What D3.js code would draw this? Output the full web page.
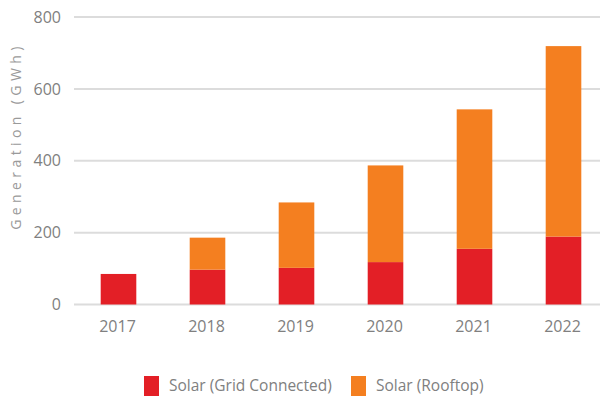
<!DOCTYPE html>
<html>
<head>
<meta charset="utf-8">
<script src="https://cdn.jsdelivr.net/npm/d3@7"></script>
<style>
  html, body { margin: 0; padding: 0; background: #fff; }
  svg { display: block; font-family: "Open Sans", sans-serif; }
</style>
</head>
<body>
<svg id="chart" width="605" height="396"></svg>
<script>
// Annual solar generation (GWh)
const years = ["2017", "2018", "2019", "2020", "2021", "2022"];
const gridConnected = [85, 97, 102, 118, 155, 189];
const rooftop = [0, 89, 182, 269, 388, 530];
const seriesNames = ["Solar (Grid Connected)", "Solar (Rooftop)"];
const seriesColors = ["#e31f26", "#f47f20"];
const yTicks = [0, 200, 400, 600, 800];

const svg = d3.select("#chart");
const margin = { left: 74, right: -3, top: 17, bottom: 91 };
const width = 605, height = 396;

const rows = years.map((y, i) => ({ year: y, grid: gridConnected[i], rooftop: rooftop[i] }));
const stack = d3.stack().keys(["grid", "rooftop"]);
const layers = stack(rows);

const x = d3.scaleBand()
  .domain(years)
  .range([margin.left, width - margin.right])
  .paddingInner(0.6)
  .paddingOuter(0.3);

const y = d3.scaleLinear()
  .domain([0, 800])
  .range([304.5, 17]);

// horizontal gridlines
svg.append("g")
  .selectAll("line")
  .data(yTicks)
  .join("line")
  .attr("x1", margin.left)
  .attr("x2", 600)
  .attr("y1", d => y(d))
  .attr("y2", d => y(d))
  .attr("stroke", "#dcdcdc")
  .attr("stroke-width", 2);

// y tick labels
const yAxis = d3.axisLeft(y).tickValues(yTicks).tickSize(0).tickPadding(0);
const gy = svg.append("g").attr("transform", `translate(${margin.left - 13},0)`).call(yAxis);
gy.select(".domain").remove();
gy.selectAll("text")
  .attr("fill", "#808080")
  .style("font-size", "16px")
  .style("font-family", "'Open Sans', sans-serif");

// x tick labels
const xAxis = d3.axisBottom(x).tickSize(0).tickPadding(0);
const gx = svg.append("g").attr("transform", "translate(-1,321)").call(xAxis);
gx.select(".domain").remove();
gx.selectAll("text")
  .attr("fill", "#808080")
  .style("font-size", "16px")
  .style("font-family", "'Open Sans', sans-serif");

// stacked bars
svg.append("g")
  .selectAll("g")
  .data(layers)
  .join("g")
  .attr("fill", (d, i) => seriesColors[i])
  .selectAll("rect")
  .data(d => d.filter(s => s[1] > s[0]))
  .join("rect")
  .attr("x", d => x(d.data.year))
  .attr("width", x.bandwidth())
  .attr("y", d => y(d[1]))
  .attr("height", d => y(d[0]) - y(d[1]));

// y axis title
svg.append("text")
  .attr("transform", "translate(21,136) rotate(-90)")
  .attr("text-anchor", "middle")
  .attr("fill", "#9a9a9a")
  .style("font-size", "14px")
  .style("letter-spacing", "4.4px")
  .text("Generation (GWh)");

// legend
const legendX = [144, 351];
const legend = svg.append("g")
  .selectAll("g")
  .data(seriesNames)
  .join("g")
  .attr("transform", (d, i) => `translate(${legendX[i]},376)`);
legend.append("rect")
  .attr("width", 15)
  .attr("height", 20)
  .attr("fill", (d, i) => seriesColors[i]);
legend.append("text")
  .attr("x", 25)
  .attr("y", 15)
  .attr("fill", "#808080")
  .style("font-size", "15.5px")
  .text(d => d);
</script>
</body>
</html>
